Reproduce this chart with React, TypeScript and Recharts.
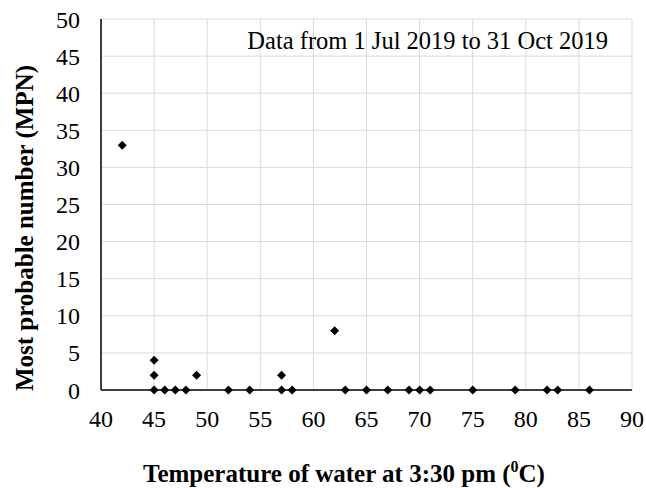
import { CartesianGrid, Scatter, ScatterChart, XAxis, YAxis } from "recharts";

const temperature = [42, 45, 45, 45, 46, 47, 48, 49, 52, 54, 57, 57, 58, 62, 63, 65, 67, 69, 70, 71, 75, 79, 82, 83, 86];
const mpn = [33, 4, 2, 0, 0, 0, 0, 2, 0, 0, 2, 0, 0, 8, 0, 0, 0, 0, 0, 0, 0, 0, 0, 0, 0];
const xTicks = [40, 45, 50, 55, 60, 65, 70, 75, 80, 85, 90];
const yTicks = [0, 5, 10, 15, 20, 25, 30, 35, 40, 45, 50];

const points = temperature.map((t, i) => ({ t, mpn: mpn[i] }));

const font = "Liberation Serif";

const Diamond = (props: any) => {
  const { cx, cy } = props;
  const r = 4.5;
  return <polygon points={`${cx},${cy - r} ${cx + r},${cy} ${cx},${cy + r} ${cx - r},${cy}`} fill="#000" />;
};

export default function App() {
  return (
    <div style={{ position: "absolute", left: 0, top: 0, width: 646, height: 488, background: "#fff" }}>
      <ScatterChart width={646} height={488} margin={{ top: 19, right: 14, bottom: 68, left: 36 }}>
        <CartesianGrid stroke="#d9d9d9" strokeWidth={1} />
        <XAxis
          type="number" dataKey="t" domain={[40, 90]} ticks={xTicks} interval={0}
          axisLine={{ stroke: "#404040", strokeWidth: 2 }} tickLine={false}
          tick={{ fontSize: 24, fill: "#000", fontFamily: font }} dy={12}
        />
        <XAxis xAxisId="top" orientation="top" type="number" domain={[40, 90]} tick={false} tickLine={false}
          axisLine={{ stroke: "#404040", strokeWidth: 2 }} height={0} />
        <YAxis
          type="number" dataKey="mpn" domain={[0, 50]} ticks={yTicks} interval={0} width={65}
          axisLine={{ stroke: "#404040", strokeWidth: 2 }} tickLine={false}
          tick={{ fontSize: 24, fill: "#000", fontFamily: font }} dx={-13}
        />
        <YAxis yAxisId="right" orientation="right" type="number" domain={[0, 50]} tick={false} tickLine={false}
          axisLine={{ stroke: "#404040", strokeWidth: 2 }} width={0} />
        <Scatter data={points} fill="#000" shape={Diamond} isAnimationActive={false} />
        <text x={608} y={49} textAnchor="end" fontFamily={font} fontSize={24.5} fill="#000">
          Data from 1 Jul 2019 to 31 Oct 2019
        </text>
        <text x={344} y={482} textAnchor="middle" fontFamily={font} fontSize={25} fontWeight="bold" fill="#000">
          Temperature of water at 3:30 pm (<tspan fontSize={16} dy={-10}>0</tspan><tspan dy={10}>C)</tspan>
        </text>
        <text x={33} y={228} textAnchor="middle" transform="rotate(-90 33 228)"
          fontFamily={font} fontSize={25} fontWeight="bold" fill="#000">
          Most probable number (MPN)
        </text>
      </ScatterChart>
    </div>
  );
}
